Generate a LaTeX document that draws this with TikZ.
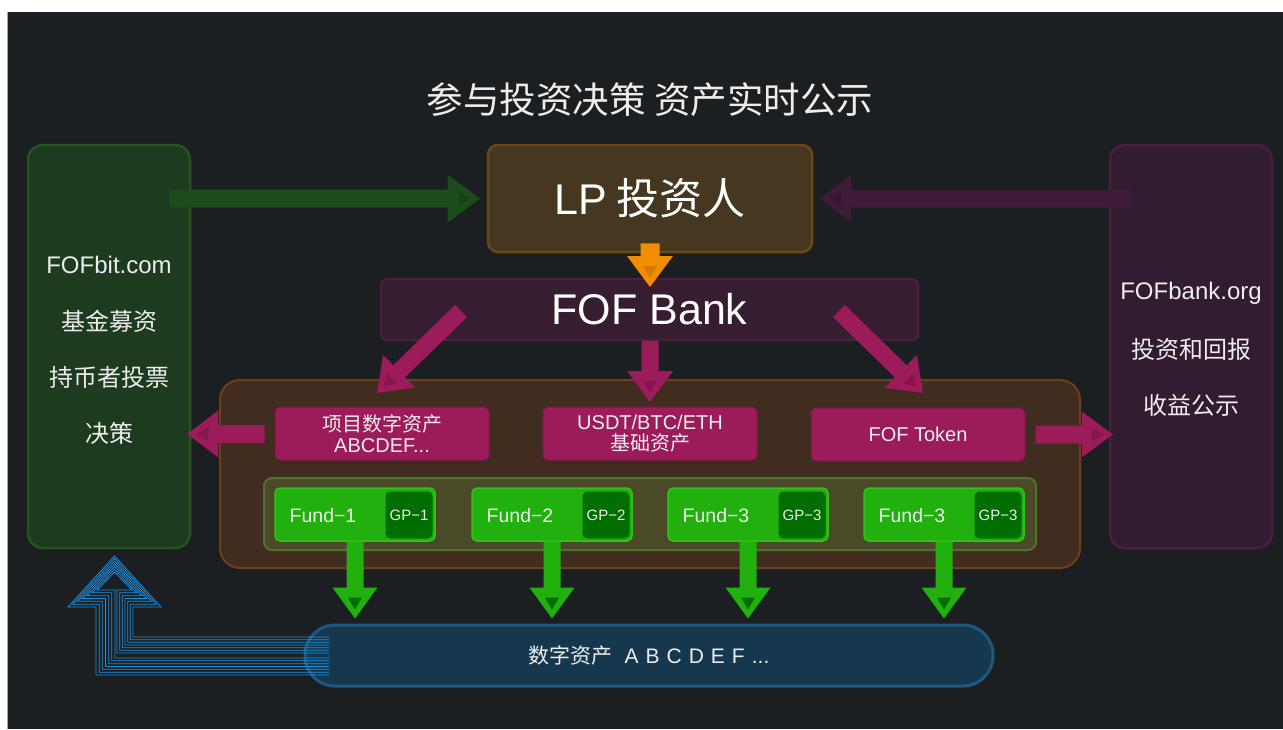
\documentclass[tikz,border=0pt]{standalone}
\usepackage{fontspec}
\setmainfont{Noto Sans CJK SC}
\newfontfamily\lat{Liberation Sans}
\usetikzlibrary{calc}
\definecolor{bgc}{HTML}{1B1F22}
\definecolor{lfill}{HTML}{1C3B1F}
\definecolor{ldraw}{HTML}{25541F}
\definecolor{rfill}{HTML}{321C2F}
\definecolor{rdraw}{HTML}{4A1E42}
\definecolor{lpfill}{HTML}{453720}
\definecolor{lpdraw}{HTML}{6E4718}
\definecolor{fbfill}{HTML}{361D30}
\definecolor{fbdraw}{HTML}{4C1F42}
\definecolor{ctfill}{HTML}{412C20}
\definecolor{ctdraw}{HTML}{6E3F18}
\definecolor{rowfill}{HTML}{4B4A28}
\definecolor{rowdraw}{HTML}{4F732A}
\definecolor{mag}{HTML}{9B1B5B}
\definecolor{magd}{HTML}{86164E}
\definecolor{fundc}{HTML}{22B00E}
\definecolor{fundd}{HTML}{30C41A}
\definecolor{gpc}{HTML}{006E00}
\definecolor{pillfill}{HTML}{15384F}
\definecolor{pilldraw}{HTML}{1E5880}
\definecolor{bluel}{HTML}{1A90E0}
\definecolor{garr}{HTML}{1C4B1C}
\definecolor{garrd}{HTML}{184018}
\definecolor{parr}{HTML}{3E1C38}
\definecolor{parrd}{HTML}{361830}
\definecolor{orng}{HTML}{F28C00}
\definecolor{orngd}{HTML}{D87A00}
\definecolor{txt}{HTML}{EDEDED}
% block arrow: #1 start, #2 tip, #3 half shaft, #4 half head, #5 head length, #6 colour, #7 inner colour
\newcommand\blkarrow[7]{%
  \path ($(#2)!#5!(#1)$) coordinate (ba);
  \fill[#6] ($(#1)!#3!90:(#2)$) -- ($(ba)!#3!90:(#2)$) -- ($(ba)!#4!90:(#2)$) -- (#2)
     -- ($(ba)!#4!-90:(#2)$) -- ($(ba)!#3!-90:(#2)$) -- ($(#1)!#3!-90:(#2)$) -- cycle;
  \path ($(#2)!9pt!(#1)$) coordinate (ia) ($(#2)!21pt!(#1)$) coordinate (ib);
  \fill[#7] (ia) -- ($(ib)!7pt!90:(#2)$) -- ($(ib)!7pt!-90:(#2)$) -- cycle;}
\begin{document}
\begin{tikzpicture}[x=1pt,y=-1pt,
  lbl/.style={text=txt,inner sep=0pt},
  side/.style={lbl,font=\fontsize{24}{28}\selectfont},
  magbox/.style={fill=mag,draw=magd,line width=1pt,rounded corners=6pt,minimum width=214pt,minimum height=53pt,inner sep=0pt,text=txt,align=center,font=\fontsize{20}{23}\selectfont},
  fundbox/.style={fill=fundc,draw=fundd,line width=1.5pt,rounded corners=5pt,minimum width=160pt,minimum height=53pt,inner sep=0pt},
  gpbox/.style={fill=gpc,rounded corners=5pt,minimum width=47pt,minimum height=47pt,inner sep=0pt,text=txt,font=\lat\fontsize{15}{18}\selectfont},
  fundtxt/.style={lbl,font=\lat\fontsize{19.5}{24}\selectfont},
  bluepoly/.style={draw=bluel,line width=0.8pt}]
\useasboundingbox (0,0) rectangle (1283,729);
\fill[white] (0,0) rectangle (1283,729);
\fill[bgc] (8,12) rectangle (1283,729);
\draw[gray!70,line width=1pt] (7.5,12) -- (7.5,729);
% title
\node[lbl,font=\fontsize{36.5}{40}\selectfont] (title) at (650,100) {参与投资决策 资产实时公示};
% side boxes
\node[fill=lfill,draw=ldraw,line width=2.5pt,rounded corners=15pt,minimum width=162pt,minimum height=403pt] (lb) at (109,346.5) {};
\node[side] (lt1) at (109,265) {\lat FOFbit.com};
\node[side] (lt2) at (109,321) {基金募资};
\node[side] (lt3) at (109,377) {持币者投票};
\node[side] (lt4) at (109,433) {决策};
\node[fill=rfill,draw=rdraw,line width=2.5pt,rounded corners=15pt,minimum width=162pt,minimum height=403pt] (rb) at (1191,346.5) {};
\node[side] (rt1) at (1191,293) {\lat FOFbank.org};
\node[side] (rt2) at (1191,349) {投资和回报};
\node[side] (rt3) at (1191,405) {收益公示};
% LP and FOF Bank
\node[fill=lpfill,draw=lpdraw,line width=2.5pt,rounded corners=10pt,minimum width=324pt,minimum height=107pt,text=white,font=\fontsize{43}{48}\selectfont] (lp) at (650,198.5) {{\lat LP} 投资人};
\node[fill=fbfill,draw=fbdraw,line width=2pt,rounded corners=6pt,minimum width=537pt,minimum height=61pt,text=white,font=\lat\fontsize{43}{48}\selectfont] (fb) at (649.5,309.5) {FOF Bank};
% green and purple arrows to LP
\coordinate (gs) at ($(lb.east |- lp.west)+(-22,0)$);
\coordinate (ge) at ($(lp.west)+(-7,0)$);
\blkarrow{gs}{ge}{9pt}{24pt}{32pt}{garr}{garrd}
\coordinate (ps) at ($(rb.west |- lp.east)+(22,0)$);
\coordinate (pe) at ($(lp.east)+(7,0)$);
\blkarrow{ps}{pe}{9pt}{24pt}{31pt}{parr}{parrd}
% orange arrow
\coordinate (os) at ($(lp.south)+(0,-10)$);
\coordinate (oe) at ($(fb.north)+(0.5,9)$);
\blkarrow{os}{oe}{9.5pt}{23pt}{31pt}{orng}{orngd}
% container
\node[fill=ctfill,draw=ctdraw,line width=2pt,rounded corners=20pt,minimum width=860pt,minimum height=188pt] (ct) at (650,474) {};
% magenta arrows from FOF Bank
\coordinate (dl0) at (461,311);
\coordinate (dl1) at (377,393);
\blkarrow{dl0}{dl1}{8.5pt}{23pt}{31pt}{mag}{magd}
\coordinate (dr0) at (839,311);
\coordinate (dr1) at (923,393);
\blkarrow{dr0}{dr1}{8.5pt}{23pt}{31pt}{mag}{magd}
\coordinate (dc0) at ($(fb.south)+(0.5,0)$);
\coordinate (dc1) at (650,402);
\blkarrow{dc0}{dc1}{8.5pt}{23pt}{31pt}{mag}{magd}
% magenta boxes
\node[magbox] (m1) at (382,433.5) {项目数字资产\\[-2pt]{\lat ABCDEF...}};
\node[magbox] (m2) at (650,433.5) {{\lat USDT/BTC/ETH}\\[-2pt]基础资产};
\node[magbox,font=\lat\fontsize{20}{23}\selectfont] (m3) at (918,434.5) {FOF Token};
% side magenta arrows
\coordinate (ml0) at ($(m1.west)+(-10,0.5)$);
\coordinate (ml1) at ($(lb.east |- m1.west)+(-4,0.5)$);
\blkarrow{ml0}{ml1}{9pt}{23.5pt}{31pt}{mag}{magd}
\coordinate (mr0) at ($(m3.east)+(10,0)$);
\coordinate (mr1) at ($(rb.west |- m3.east)+(4,0)$);
\blkarrow{mr0}{mr1}{9pt}{23pt}{31pt}{mag}{magd}
% fund row
\node[fill=rowfill,draw=rowdraw,line width=2pt,rounded corners=8pt,minimum width=772pt,minimum height=72pt] (row) at (650,514) {};
\foreach \i/\cx/\nm in {1/355/Fund−1,2/552/Fund−2,3/748/Fund−3,4/944/Fund−3}{
  \node[fundbox] (f\i) at (\cx,514.5) {};
  \node[fundtxt] (ft\i) at ($(f\i.center)+(-32,1)$) {\nm};
}
\node[gpbox] (g1) at (409,515) {GP−1};
\node[gpbox] (g2) at (606,515) {GP−2};
\node[gpbox] (g3) at (802,515) {GP−3};
\node[gpbox] (g4) at (998,515) {GP−3};
% bottom pill
\node[fill=pillfill,draw=pilldraw,line width=3pt,rounded corners=30pt,minimum width=688pt,minimum height=61pt,text=txt,font=\fontsize{21}{24}\selectfont] (pill) at (649,655.5) {数字资产\hspace{12pt}{\lat A\,\,B\,\,C\,\,D\,\,E\,\,F\,\,...}};
% green arrows from funds
\foreach \i in {1,...,4}{
  \coordinate (fe\i) at ($(f\i.south |- pill.north)+(0,-5)$);
  \blkarrow{f\i.south}{fe\i}{8.5pt}{22.5pt}{31pt}{fundc}{gpc}
}
% blue multi-line arrow from pill to left box
\coordinate (o1) at (329,675); \coordinate (i1) at (329,658);
\coordinate (o2) at (96,675);  \coordinate (i2) at (115,658);
\coordinate (o3) at (96,607);  \coordinate (i3) at (115,590);
\coordinate (o4) at (68,607);  \coordinate (i4) at (97,590);
\coordinate (o5) at (114.5,556); \coordinate (i5) at (114.5,572);
\coordinate (o6) at (161,607); \coordinate (i6) at (132,590);
\coordinate (o7) at (133,607); \coordinate (i7) at (117,590);
\coordinate (o8) at (133,637); \coordinate (i8) at (117,653);
\coordinate (o9) at (329,637); \coordinate (i9) at (329,653);
\foreach \t in {0,1,...,6}{
  \draw[bluepoly] ($(o1)!\t/6!(i1)$) -- ($(o2)!\t/6!(i2)$) -- ($(o3)!\t/6!(i3)$) -- ($(o4)!\t/6!(i4)$)
    -- ($(o5)!\t/6!(i5)$) -- ($(o6)!\t/6!(i6)$) -- ($(o7)!\t/6!(i7)$) -- ($(o8)!\t/6!(i8)$) -- ($(o9)!\t/6!(i9)$);
}
\end{tikzpicture}
\end{document}
